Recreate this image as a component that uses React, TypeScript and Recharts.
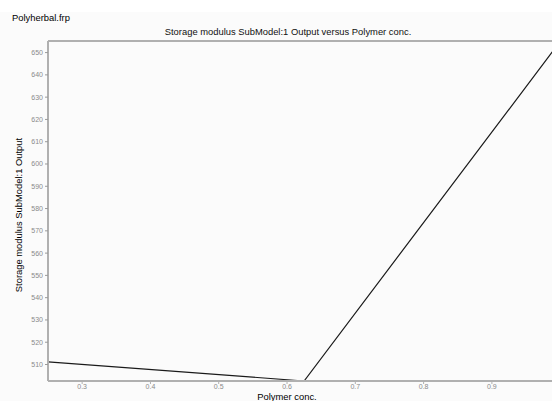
import { LineChart, Line, XAxis, YAxis, ReferenceLine } from 'recharts';

// values
const polymerConc = [0.25, 0.625, 1.0];
const storageModulus = [511.2, 502.6, 655];
const xTicks = [0.3, 0.4, 0.5, 0.6, 0.7, 0.8, 0.9];
const yTicks = [510, 520, 530, 540, 550, 560, 570, 580, 590, 600, 610, 620, 630, 640, 650];

const data = polymerConc.map((x, i) => ({ x, y: storageModulus[i] }));

const font = 'Arial, "Liberation Sans", sans-serif';
const axisColor = '#b0b0b0';
const tickStyle = { fill: '#8a8a8a', fontSize: 7, fontFamily: font };
const labelSize = 9.4;

const App = () => {
  return (
    <div
      style={{
        position: 'absolute',
        left: 0,
        top: 0,
        width: 552,
        height: 401,
        overflow: 'hidden',
        background: '#fbfbfb',
        fontFamily: font,
      }}
    >
      {/* white strip across the top */}
      <div style={{ position: 'absolute', left: 0, top: 0, width: 552, height: 12, background: '#fff' }} />
      <div style={{ position: 'absolute', left: 12, top: 12, fontSize: labelSize, color: '#000' }}>Polyherbal.frp</div>
      <div
        style={{
          position: 'absolute',
          left: 288,
          top: 26,
          fontSize: labelSize,
          color: '#111',
          whiteSpace: 'nowrap',
          transform: 'translateX(-50%)',
        }}
      >
        Storage modulus SubModel:1 Output versus Polymer conc.
      </div>
      <div
        style={{
          position: 'absolute',
          left: 18,
          top: 215,
          fontSize: labelSize,
          color: '#000',
          whiteSpace: 'nowrap',
          transform: 'translate(-50%, -50%) rotate(-90deg)',
        }}
      >
        Storage modulus SubModel:1 Output
      </div>
      <div
        style={{
          position: 'absolute',
          left: 287,
          top: 392,
          fontSize: labelSize,
          lineHeight: '9px',
          color: '#000',
          whiteSpace: 'nowrap',
          transform: 'translateX(-50%)',
        }}
      >
        Polymer conc.
      </div>

      <LineChart
        width={552}
        height={401}
        data={data}
        margin={{ top: 41, right: 0, bottom: 0, left: 0 }}
        style={{ position: 'absolute', left: 0, top: 0 }}
      >
        <XAxis
          dataKey="x"
          type="number"
          domain={[0.25, 0.988]}
          allowDataOverflow
          ticks={xTicks}
          tickFormatter={(v) => v.toFixed(1)}
          height={20}
          stroke={axisColor}
          strokeWidth={2}
          tickSize={3}
          tickMargin={0}
          tick={tickStyle}
          tickLine={{ stroke: axisColor, strokeWidth: 1 }}
        />
        <YAxis
          type="number"
          domain={[502.6, 655.2]}
          allowDataOverflow
          ticks={yTicks}
          width={48}
          stroke={axisColor}
          strokeWidth={2}
          tickSize={3}
          tick={tickStyle}
          tickLine={{ stroke: '#9a9a9a', strokeWidth: 1 }}
        />
        <ReferenceLine y={655.2} stroke={axisColor} strokeWidth={2} ifOverflow="extendDomain" />
        <Line
          type="linear"
          dataKey="y"
          stroke="#1a1a1a"
          strokeWidth={1.2}
          dot={false}
          isAnimationActive={false}
        />
      </LineChart>
    </div>
  );
};

export default App;
